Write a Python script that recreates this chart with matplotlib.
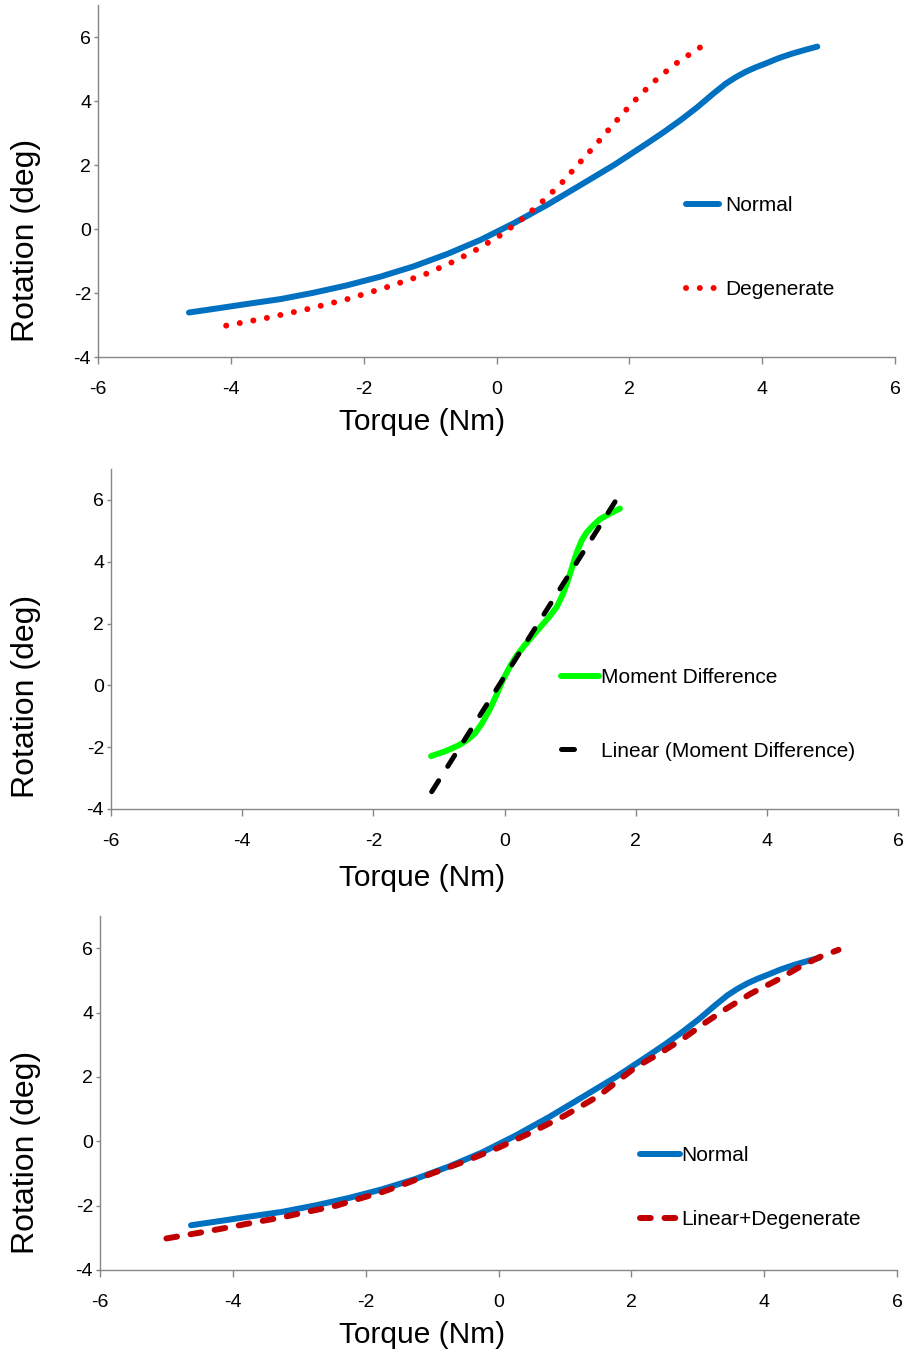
import matplotlib
matplotlib.use('Agg')
import matplotlib.pyplot as plt
from matplotlib.lines import Line2D

# ========== 字体 ==========
plt.rcParams['font.family'] = ['Liberation Sans', 'DejaVu Sans']
plt.rcParams['axes.unicode_minus'] = False

# ========== 数据 ==========
# Normal
normal_x = [-4.63, -4.2, -3.75, -3.25, -2.75, -2.25, -1.75, -1.25, -0.74, -0.24, 0.01, 0.26,
            0.76, 1.27, 1.77, 2.27, 2.52, 2.77, 3.02, 3.27, 3.45, 3.6, 3.75, 3.9, 4.05,
            4.25, 4.45, 4.65, 4.83]
normal_y = [-2.61, -2.48, -2.34, -2.19, -1.99, -1.76, -1.49, -1.17, -0.78, -0.34, -0.08, 0.18,
            0.75, 1.38, 2.0, 2.68, 3.03, 3.40, 3.80, 4.24, 4.54, 4.74, 4.91, 5.05, 5.17,
            5.34, 5.48, 5.60, 5.70]

# Degenerate
deg_x = [-4.07, -3.46, -2.86, -2.26, -1.67, -1.08, -0.71, -0.34, 0.02, 0.35, 0.66, 0.96,
         1.23, 1.51, 1.77, 2.05, 2.34, 2.66, 3.0, 3.18]
deg_y = [-3.02, -2.78, -2.51, -2.20, -1.83, -1.42, -1.08, -0.69, -0.25, 0.25, 0.80, 1.39,
         2.02, 2.67, 3.30, 3.95, 4.55, 5.11, 5.59, 5.82]

# Moment Difference
md_x = [-1.12, -0.9, -0.69, -0.55, -0.45, -0.35, -0.23, -0.12, -0.03, 0.08, 0.18, 0.3,
        0.43, 0.56, 0.69, 0.8, 0.89, 0.96, 1.02, 1.07, 1.12, 1.18, 1.25, 1.35, 1.45,
        1.6, 1.76]
md_y = [-2.29, -2.13, -1.93, -1.74, -1.55, -1.25, -0.80, -0.30, 0.15, 0.60, 0.95, 1.28,
        1.60, 1.92, 2.24, 2.55, 2.95, 3.35, 3.75, 4.10, 4.40, 4.70, 4.94, 5.17, 5.37,
        5.55, 5.72]

# Linear (Moment Difference)
lin_x = [-1.11, 1.71]
lin_y = [-3.44, 6.02]

# Linear+Degenerate
ld_x = [-5.0, -4.5, -4.05, -3.65, -3.25, -2.85, -2.44, -2.09, -1.74, -1.39, -1.0, -0.5,
        0.0, 0.5, 1.0, 1.5, 2.07, 2.42, 2.78, 3.13, 3.43, 3.8, 4.16, 4.53, 4.83, 5.12]
ld_y = [-3.02, -2.84, -2.67, -2.51, -2.36, -2.18, -2.0, -1.78, -1.57, -1.31, -1.0, -0.62,
        -0.2, 0.28, 0.80, 1.40, 2.31, 2.72, 3.19, 3.71, 4.12, 4.59, 4.97, 5.41, 5.72, 5.95]

x_ticks = [-6, -4, -2, 0, 2, 4, 6]
y_ticks = [-4, -2, 0, 2, 4, 6]

W, H = 906, 1356
fig = plt.figure(figsize=(W / 100, H / 100), dpi=100)


def px_axes(left, right, bottom, top):
    return fig.add_axes([left / W, 1 - bottom / H, (right - left) / W, (bottom - top) / H])


def style_axes(ax):
    ax.set_xlim(-6, 6)
    ax.set_ylim(-4, 7)
    ax.set_xticks(x_ticks)
    ax.set_yticks(y_ticks)
    for s in ['top', 'right']:
        ax.spines[s].set_visible(False)
    for s in ['left', 'bottom']:
        ax.spines[s].set_color('#868686')
        ax.spines[s].set_linewidth(1.0)
    ax.tick_params(axis='x', length=5, width=1, color='#868686', pad=12, labelsize=14)
    ax.tick_params(axis='y', length=3, width=1, color='#868686', pad=2, labelsize=14)


def labels(ax, y_x, y_c):
    fig.text(422 / W, 1 - y_x / H, 'Torque (Nm)', ha='center', va='center', fontsize=21.5)
    fig.text(26 / W, 1 - y_c / H, 'Rotation (deg)', ha='center', va='center',
             rotation=90, fontsize=23)


def add_legend(ax, x0, yc, hl, tp, ls, handles=None):
    kw = dict(loc='center left', bbox_to_anchor=(x0 / W, 1 - yc / H),
              bbox_transform=fig.transFigure, frameon=False, fontsize=15,
              handlelength=hl, handletextpad=tp, labelspacing=ls,
              borderpad=0, borderaxespad=0)
    if handles is None:
        ax.legend(**kw)
    else:
        ax.legend(handles=handles, **kw)


# -------- 图1 --------
ax1 = px_axes(98, 895, 357, 5)
ax1.plot(normal_x, normal_y, color='#0070C0', lw=4.3, solid_capstyle='round',
         solid_joinstyle='round', label='Normal')
ax1.plot(deg_x, deg_y, color='#FF0000', lw=4.3, linestyle=(0, (0.01, 2.3)),
         dash_capstyle='round', label='Degenerate')
style_axes(ax1)
labels(ax1, 422, 240)
add_legend(ax1, 686, 247.5, 1.6, 0.3, 3.1)

# -------- 图2 --------
ax2 = px_axes(111, 898, 809, 469)
md_line, = ax2.plot(md_x, md_y, color='#00FF00', lw=4.3, solid_capstyle='round',
                    solid_joinstyle='round', label='Moment Difference')
ax2.plot(lin_x, lin_y, color='black', lw=3.6, linestyle=(0, (2.6, 3.4)),
         dash_capstyle='round', label='Linear (Moment Difference)')
style_axes(ax2)
labels(ax2, 878, 696)
# 图例中趋势线只显示一段虚线
lin_handle = Line2D([], [], color='black', lw=3.6, linestyle=(0, (2.6, 20)),
                    dash_capstyle='round', label='Linear (Moment Difference)')
add_legend(ax2, 561, 714.5, 1.8, 0.1, 2.6, handles=[md_line, lin_handle])

# -------- 图3 --------
ax3 = px_axes(100, 897, 1270, 916)
ax3.plot(normal_x, normal_y, color='#0070C0', lw=4.3, solid_capstyle='round',
         solid_joinstyle='round', label='Normal')
ax3.plot(ld_x, ld_y, color='#C00000', lw=4.3, linestyle=(0, (1.8, 2.3)),
         dash_capstyle='round', label='Linear+Degenerate')
style_axes(ax3)
labels(ax3, 1335, 1152)
add_legend(ax3, 640, 1187.5, 1.9, 0.1, 2.15)

fig.savefig('out.png', dpi=100)
